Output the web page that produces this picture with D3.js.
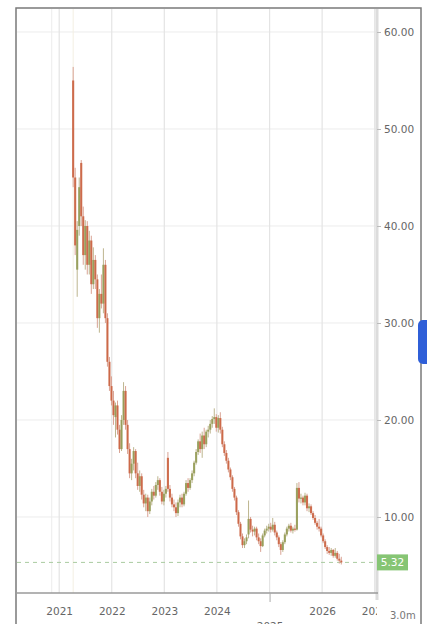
<!DOCTYPE html>
<html><head><meta charset="utf-8">
<script src="https://cdn.jsdelivr.net/npm/d3@7/dist/d3.min.js"></script>
<style>
html,body{margin:0;padding:0;background:#fff;}
svg{display:block;}
text{font-family:"DejaVu Sans",sans-serif;}
</style></head>
<body>
<svg id="c" width="427" height="624"></svg>
<script>
// ---- data (bi-weekly candles) ----
const startDate = "2021-04-08";
const opens  = [55,45,35.5,40,46.5,41,37,40,36,38.5,34,36.5,34.5,30.5,33,32,36,30.5,26,23.5,22,20.3,21.5,19,17,20,23,19.5,17,14.5,15.5,16.8,14.5,13.2,14.2,12.3,11.4,12,10.6,11.6,12.6,12.2,13.3,13.8,12.6,11.6,12.4,16.1,12.9,12,11.3,11,10.4,11.5,12,11.3,12.4,13.5,13,13.8,14.5,15.6,16.7,17.8,17,18.4,17.5,18.8,19,19.6,20.1,20.3,19.2,20.2,19,17.5,16.6,15.8,14.9,14.1,12.9,12,10.5,9.3,8,7.1,7.5,8.2,9.8,8.7,8.5,8.8,7.9,7.5,7,8.1,8.6,8.8,9,8.7,9.2,8.4,7.9,7.2,6.6,7.4,8.2,8.8,9.1,8.6,8.8,8.7,13,11.9,12,11.5,12.2,10.9,11.1,10.4,9.9,9.4,9,8.8,8.1,7.5,6.9,6.5,6.3,6.6,6,6.3,5.7,5.5];
const highs  = [56.4,46,40.5,45,46.8,42,40.6,40.5,39.5,39,37.8,37,35,33.5,35,37.7,36.5,31,26.5,24.5,23,21.8,22,19.5,20.5,23.9,23.5,20,17.6,16,17.2,17,15.6,14.8,14.5,12.8,12.4,12.3,12,12.9,13.2,13.6,14.2,14,13.1,12.8,13.2,16.7,13.3,12.4,11.8,11.5,11.8,12.3,12.4,12.6,13.8,14,14,14.8,15.8,17,18,18.6,18.8,19.2,19,19.4,20,20.4,21.2,20.6,20.5,20.8,19.3,17.8,16.9,16.1,15.1,14.3,13.1,12.2,10.7,9.5,8.3,7.8,8.2,11.7,10,9.1,9,9,8.3,7.8,8.3,8.8,9.1,9.3,9.4,9.9,9.5,8.6,8.1,7.4,7.6,8.4,9,9.3,9.4,9,9.2,13.5,13.6,12.4,12.2,12.5,12.4,11.4,11.3,10.6,10.2,9.6,9.8,9,8.3,7.7,7.1,6.9,6.8,6.7,6.8,6.5,6.2,5.9];
const lows   = [44,37,32.7,39,40,36,35.5,35,35,33,33.5,33.5,29.5,29,31.5,31,30,25.5,23,21.5,19.5,18.2,18.5,16.6,16.8,19.5,19,16.5,14,13.8,14.8,14,12.8,12.6,11.8,11,10.6,10,10.3,11.2,11.8,12,12.8,12.2,11.3,11.2,12,12.6,11.6,11,10.6,10,10.1,11,11,11.1,12.2,12.6,12.8,13.5,14.2,15.4,16.4,16.6,16.1,17,17.2,18.2,18.6,19.2,19.6,18.8,18.7,18.6,17.2,16.3,15.5,14.6,13.8,12.6,11.7,10.2,9,7.7,6.8,6.8,7.2,7.8,8.4,8,8.1,7.6,7.2,6.4,6.9,7.9,8.3,8.5,8.4,8.5,8.1,7.6,6.9,6.1,6.4,7.2,8,8.5,8.4,8.3,8.5,8.6,11.5,11.4,11.2,11.2,10.6,10.5,10.2,9.7,9.2,8.7,8.5,7.9,7.3,6.7,6.2,6.1,6,5.8,5.8,5.5,5.2,5.1];
const closes = [45,38,39.6,44,41,37,40,36,38.5,34,36.5,34.5,30.5,33,32,36,30.5,26,23.5,22,20.5,21.5,19,17,20,23,19.5,17,14.5,15.5,16.8,14.5,13.2,14.2,12.3,11.4,12,10.6,11.6,12.6,12.2,13.3,13.8,12.6,11.6,12.4,12.9,12.9,12,11.3,11,10.4,11.5,12,11.3,12.4,13.5,13,13.8,14.5,15.6,16.7,17.8,17,18.4,17.5,18.8,19,19.6,20.1,20.3,19.2,20.2,19,17.5,16.6,15.8,14.9,14.1,12.9,12,10.5,9.3,8,7.1,7.5,7.9,9.8,8.7,8.5,8.8,7.9,7.5,7,8.1,8.6,8.8,9,8.7,9.2,8.4,7.9,7.2,6.6,7.4,8.2,8.8,9.1,8.6,8.8,8.7,13,11.9,12,11.5,12.2,10.9,11.1,10.4,9.9,9.4,9,8.8,8.1,7.5,6.9,6.5,6.3,6.6,6,6.3,5.7,5.5,5.32];
const yTicks = [10,20,30,40,50,60];
const lastPrice = 5.32;
const volumeLabel = "3.0m";

// ---- layout ----
const svg = d3.select("#c");
const L = 17, R = 377, T = 9, B = 593;
const dates = d3.timeDay.range(new Date(startDate+"T00:00:00"), new Date(2030,0,1), 14).slice(0, closes.length);
const x = d3.scaleTime().domain([new Date("2020-03-14T00:00:00"), new Date("2027-01-17T00:00:00")]).range([L, R]);
const y = d3.scaleLinear().domain([2.165, 62.37]).range([B, T]);

svg.append("defs").append("clipPath").attr("id","plot").append("rect").attr("x",L).attr("y",T).attr("width",R-L).attr("height",B-T);
svg.select("defs").append("clipPath").attr("id","xaxis").append("rect").attr("x",L).attr("y",B).attr("width",R-L).attr("height",624-B);

// gridlines
const grid = svg.append("g").attr("clip-path","url(#plot)");
grid.selectAll("line.h").data(yTicks).join("line")
  .attr("x1",L).attr("x2",R).attr("y1",d=>y(d)).attr("y2",d=>y(d))
  .attr("stroke","#ececec").attr("stroke-width",1);
const years = x.ticks(d3.timeYear);
grid.selectAll("line.v").data(years).join("line")
  .attr("x1",d=>x(d)).attr("x2",d=>x(d)).attr("y1",T).attr("y2",B)
  .attr("stroke","#e4e4e4").attr("stroke-width",1.2);
grid.append("line").attr("x1",x(new Date("2020-11-10"))).attr("x2",x(new Date("2020-11-10"))).attr("y1",T).attr("y2",B).attr("stroke","#ececec");
grid.append("line").attr("x1",x(dates[0])).attr("x2",x(dates[0])).attr("y1",T).attr("y2",B).attr("stroke","#f3efe2");

// right axis band
svg.append("line").attr("x1",R).attr("x2",R).attr("y1",T).attr("y2",600).attr("stroke","#dcdcdc").attr("stroke-width",3);

// last price dashed line
grid.append("line").attr("x1",L).attr("x2",R).attr("y1",y(lastPrice)).attr("y2",y(lastPrice))
  .attr("stroke","#a9cba0").attr("stroke-width",1).attr("stroke-dasharray","4,4");

// candles
const upC = "#929a52", dnC = "#c9603e";
const cg = svg.append("g").attr("clip-path","url(#plot)");
const idx = d3.range(closes.length);
const bw = 2.1;
cg.selectAll("line.w").data(idx).join("line")
  .attr("x1",i=>x(dates[i])).attr("x2",i=>x(dates[i]))
  .attr("y1",i=>y(highs[i])).attr("y2",i=>y(lows[i]))
  .attr("stroke",i=>closes[i]>=opens[i]?"#bdb58e":"#d9a394").attr("stroke-width",1);
cg.selectAll("rect.b").data(idx).join("rect")
  .attr("x",i=>x(dates[i])-bw/2).attr("width",bw)
  .attr("y",i=>y(Math.max(opens[i],closes[i])))
  .attr("height",i=>Math.max(1.2,Math.abs(y(opens[i])-y(closes[i]))))
  .attr("fill",i=>closes[i]>=opens[i]?upC:dnC).attr("opacity",0.88);

// y axis
const ya = svg.append("g").attr("transform",`translate(${R},0)`)
  .call(d3.axisRight(y).tickValues(yTicks).tickFormat(d3.format(".2f")).tickSize(4).tickPadding(3));
ya.select(".domain").remove();
ya.selectAll("line").attr("stroke","#bbb");
ya.selectAll("text").attr("fill","#666").style("font-size","10.5px").style("font-family","DejaVu Sans");

// price label
svg.append("rect").attr("x",R).attr("y",y(lastPrice)-8).attr("width",31).attr("height",16).attr("fill","#86c574");
svg.append("text").attr("x",R+15.5).attr("y",y(lastPrice)+4).attr("text-anchor","middle")
  .attr("fill","#fff").style("font-size","10.5px").text(d3.format(".2f")(lastPrice));

// x axis
svg.append("line").attr("x1",L).attr("x2",R+1).attr("y1",B).attr("y2",B).attr("stroke","#9a9a9a").attr("stroke-width",1.3);
const xa = svg.append("g").attr("clip-path","url(#xaxis)").append("g").attr("transform",`translate(0,${B})`)
  .call(d3.axisBottom(x).ticks(d3.timeYear).tickFormat(d3.timeFormat("%Y")).tickSize(0).tickPadding(15));
xa.select(".domain").remove();
xa.selectAll("text").attr("fill","#666").style("font-size","10.5px").style("font-family","DejaVu Sans");
xa.selectAll(".tick").filter(d=>d.getFullYear()===2025).each(function(){
  d3.select(this).select("text").attr("dy","2.1em");
  d3.select(this).select("line").attr("y2",9).attr("stroke","#aaa");
});
svg.append("text").attr("x",390).attr("y",619).attr("fill","#777")
  .style("font-size","10px").text(volumeLabel);

// frame
svg.append("rect").attr("x",16).attr("y",8).attr("width",405).attr("height",630)
  .attr("fill","none").attr("stroke","#7a7a7a").attr("stroke-width",1.5);

// blue side tab
svg.append("rect").attr("x",418).attr("y",320).attr("width",16).attr("height",44).attr("rx",5).attr("fill","#2f5fd8");
</script>
</body></html>
